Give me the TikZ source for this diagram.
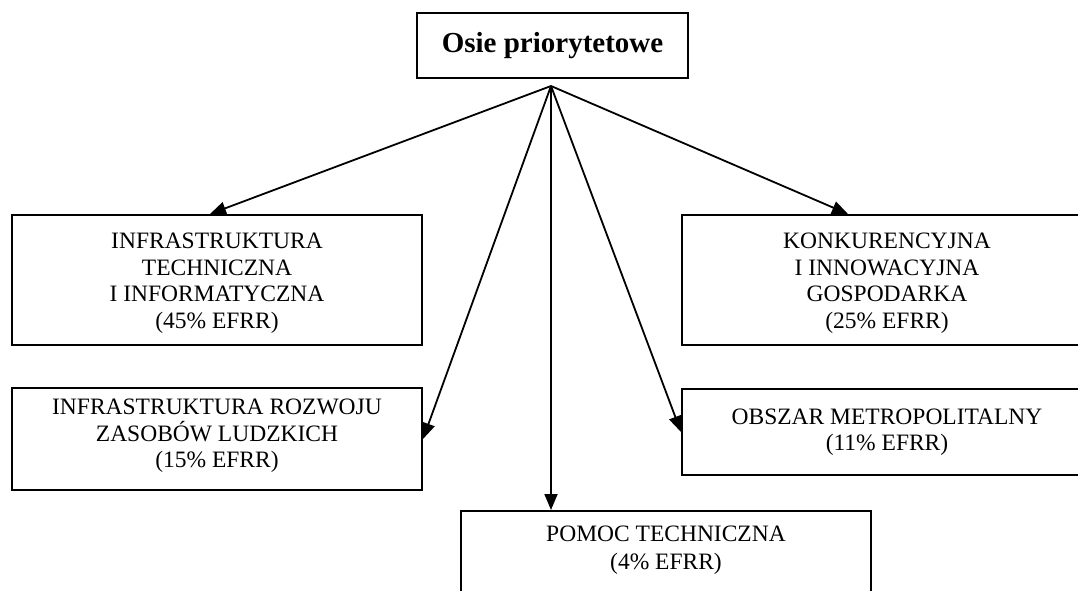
\documentclass[tikz,border=0pt]{standalone}
\usepackage{fontspec}
\setmainfont{Liberation Serif}
\usetikzlibrary{arrows.meta}
\begin{document}
\begin{tikzpicture}[x=1pt,y=-1pt,
 box/.style={draw, line width=2pt, minimum width=410pt, inner sep=0pt, align=center, font=\fontsize{23.5}{26.5}\selectfont},
 txt/.style={inner sep=0pt, align=center, font=\fontsize{23.5}{28}\selectfont},
 arr/.style={line width=1.8pt, -{Triangle[length=16pt,width=13pt]}}]
\useasboundingbox (0,0) rectangle (1078,590);
\clip (0,0) rectangle (1078,590);
\node[draw, line width=2pt, minimum width=271pt, minimum height=65pt, inner sep=0pt,
      font=\fontsize{29}{34}\selectfont\bfseries] (title) at (552.5,45.5) {Osie priorytetowe};
\coordinate (apex) at (551,86);
\node[box, minimum height=130pt] (b1) at (217,280) {};
\node[txt, font=\fontsize{23.5}{26.5}\selectfont] (b1t) at (217,283) {INFRASTRUKTURA\\TECHNICZNA\\I INFORMATYCZNA\\(45\% EFRR)};
\node[box, minimum height=102pt] (b2) at (217,439) {};
\node[txt, font=\fontsize{23.5}{26.5}\selectfont] (b2t) at (217,436) {INFRASTRUKTURA ROZWOJU\\ZASOBÓW LUDZKICH\\(15\% EFRR)};
\node[box, minimum height=130pt] (b3) at (887,280) {};
\node[txt, font=\fontsize{23.5}{26.5}\selectfont] (b3t) at (887,283) {KONKURENCYJNA\\I INNOWACYJNA\\GOSPODARKA\\(25\% EFRR)};
\node[box, minimum height=86pt] (b4) at (887,432) {OBSZAR METROPOLITALNY\\(11\% EFRR)};
\node[box, minimum height=120pt, anchor=north] (b5) at (666,510) {};
\node[txt] (b5t) at (666,550) {POMOC TECHNICZNA\\(4\% EFRR)};
\draw[arr] (apex) -- ([xshift=-7pt]b1.north);
\draw[arr] (apex) -- (b2.east);
\draw[arr] (apex) -- ([xshift=-39pt]b3.north);
\draw[arr] (apex) -- (b4.west);
\draw[arr] (apex) -- (apex |- b5.north);
\end{tikzpicture}
\end{document}
